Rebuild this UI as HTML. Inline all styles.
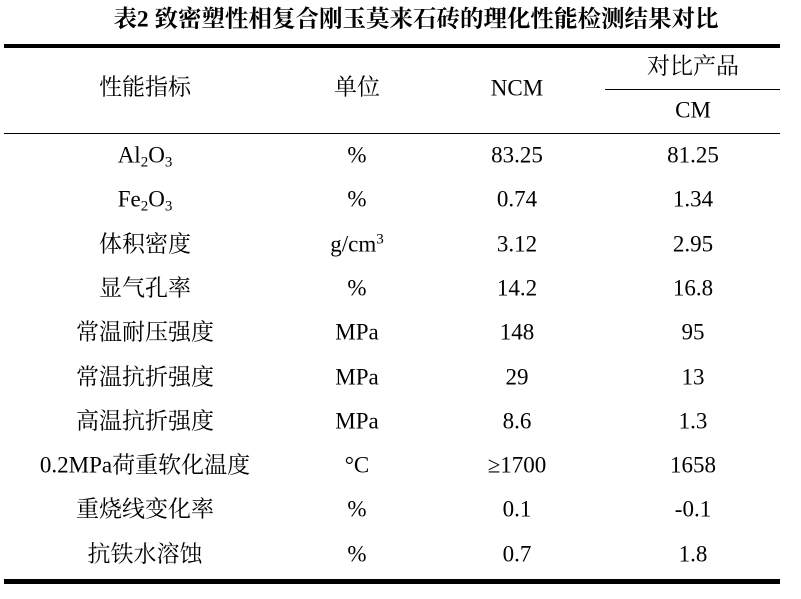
<!DOCTYPE html>
<html><head><meta charset="utf-8"><style>
body{margin:0;width:801px;height:599px;background:#fff;position:relative;overflow:hidden;font-family:"Liberation Serif","Noto Serif CJK SC",serif;color:#000}
.t{position:absolute;transform:translate(-50%,-50%);white-space:nowrap;font-size:23px;line-height:1}
.ln{position:absolute;background:#000}
sub{font-size:15px;vertical-align:-4px;line-height:0}
sup{font-size:15px;vertical-align:8px;line-height:0}
</style></head><body>
<div class="t" style="left:416px;top:20px;font-weight:bold;font-size:23.5px">表2 致密塑性相复合刚玉莫来石砖的理化性能检测结果对比</div>
<div class="ln" style="left:4px;top:44px;width:776px;height:4px"></div>
<div class="ln" style="left:605px;top:89px;width:175px;height:1px"></div>
<div class="ln" style="left:4px;top:133px;width:776px;height:1px"></div>
<div class="ln" style="left:4px;top:579px;width:776px;height:5px"></div>
<div class="t" style="left:145px;top:87px">性能指标</div>
<div class="t" style="left:357px;top:87px">单位</div>
<div class="t" style="left:517px;top:88px">NCM</div>
<div class="t" style="left:693px;top:66px">对比产品</div>
<div class="t" style="left:693px;top:110px">CM</div>
<div id="rows"></div>
<script>
const props=["Al<sub>2</sub>O<sub>3</sub>","Fe<sub>2</sub>O<sub>3</sub>","体积密度","显气孔率","常温耐压强度","常温抗折强度","高温抗折强度","0.2MPa荷重软化温度","重烧线变化率","抗铁水溶蚀"];
const units=["%","%","g/cm<sup>3</sup>","%","MPa","MPa","MPa","°C","%","%"];
const ncm=["83.25","0.74","3.12","14.2","148","29","8.6","≥1700","0.1","0.7"];
const cm=["81.25","1.34","2.95","16.8","95","13","1.3","1658","-0.1","1.8"];
const root=document.getElementById('rows');
const xs=[145,357,517,693];
props.forEach((p,i)=>{
  const y=155+i*44.3;
  [p,units[i],ncm[i],cm[i]].forEach((v,j)=>{
    const d=document.createElement('div');
    d.className='t';
    
    
    d.style.left=xs[j]+'px';d.style.top=y+'px';
    d.innerHTML=v;
    root.appendChild(d);
  });
});
</script>
</body></html>
